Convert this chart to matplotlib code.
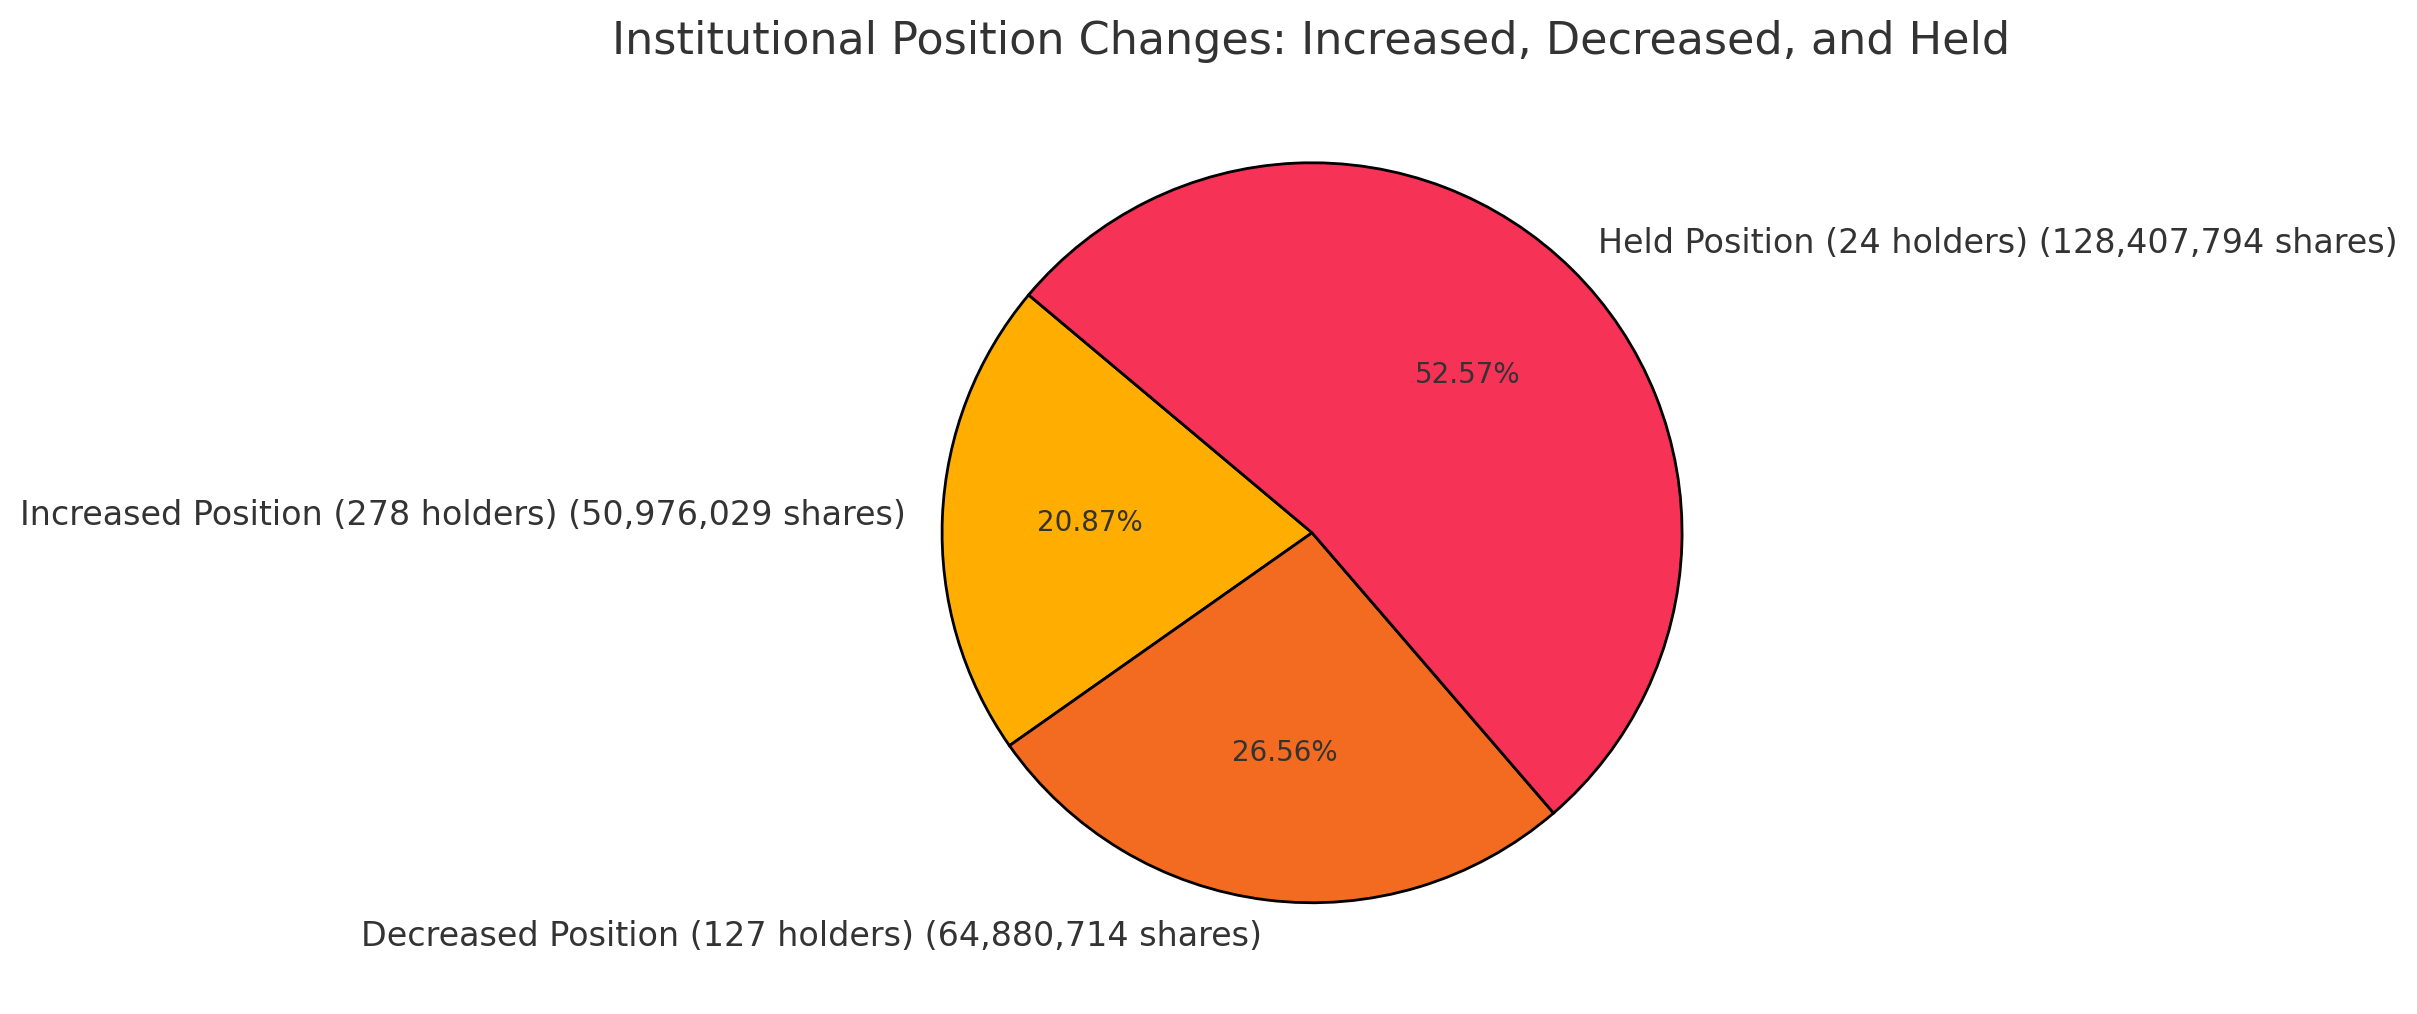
import matplotlib.pyplot as plt

# Datos del grafico
categorias = ['Increased Position', 'Decreased Position', 'Held Position']
holders = [278, 127, 24]
acciones = [50976029, 64880714, 128407794]
colores = ['#FFAE00', '#F26B21', '#F63256']

etiquetas = [f'{c} ({h} holders) ({a:,} shares)'
             for c, h, a in zip(categorias, holders, acciones)]

texto_color = '#333333'

fig = plt.figure(figsize=(12.085, 5.07), dpi=200)
ax = fig.add_axes([0.3515, 0.0185, 0.3827, 0.9122])

wedges, textos, pcts = ax.pie(
    acciones,
    labels=etiquetas,
    colors=colores,
    autopct='%1.2f%%',
    startangle=140,
    wedgeprops={'edgecolor': 'black', 'linewidth': 1},
    textprops={'fontsize': 12, 'color': texto_color},
)
for p in pcts:
    p.set_fontsize(10)
    p.set_color(texto_color)

ax.set_xlim(-1.25, 1.25)
ax.set_ylim(-1.25, 1.25)
ax.set_aspect('equal')

fig.text(0.5425, 0.959, 'Institutional Position Changes: Increased, Decreased, and Held',
         ha='center', va='center', fontsize=16, color=texto_color)

fig.savefig('out.png', dpi=200)
